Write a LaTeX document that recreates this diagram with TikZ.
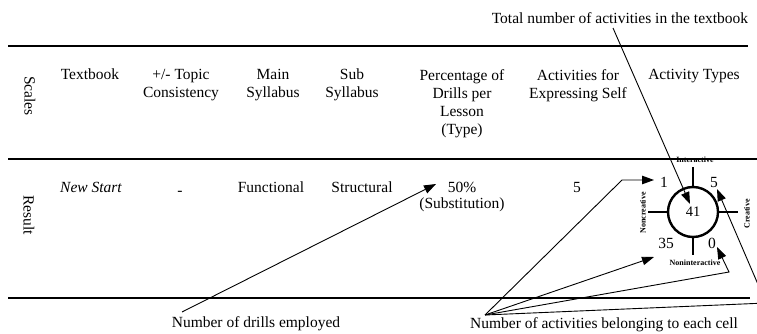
\documentclass[tikz,border=0pt]{standalone}
\usepackage{fontspec}
\setmainfont{Liberation Serif}
\usetikzlibrary{arrows.meta}
\begin{document}
\begin{tikzpicture}[x=1pt,y=-1pt,
  txt/.style={font=\fontsize{15.5}{18}\selectfont, inner sep=0pt, align=center},
  hdr/.style={txt, anchor=north},
  val/.style={txt, anchor=base},
  axl/.style={font=\fontsize{8}{8}\selectfont\bfseries, inner sep=0.5pt},
  rule/.style={line width=1.1pt},
  ptr/.style={line width=0.9pt, -{Triangle[length=12pt,width=8.5pt]}},
  tick/.style={line width=2.4pt}]
\useasboundingbox (0,0) rectangle (757,334);
\clip (0,0) rectangle (757,334);
% table rules
\draw[rule] (8,46) -- (748,46);
\draw[rule] (8,159) -- (757,159);
\draw[rule] (8,298) -- (750,298);
% side labels
\node[txt, rotate=-90] (scales) at (30,96) {Scales};
\node[txt, rotate=-90] (result) at (29,215) {Result};
% headers
\node[hdr] (h1) at (90,69) {Textbook};
\node[hdr] (h2) at (181,69) {+/- Topic\\Consistency};
\node[hdr] (h3) at (273,69) {Main\\Syllabus};
\node[hdr] (h4) at (352,69) {Sub\\Syllabus};
\node[hdr] (h5) at (462,69) {Percentage of\\Drills per\\Lesson\\(Type)};
\node[hdr] (h6) at (578,69) {Activities for\\Expressing Self};
\node[hdr] (h7) at (694,69) {Activity Types};
% values
\node[val] (v1) at (91,192) {\itshape New Start};
\node[val] (v2) at (180,195) {-};
\node[val] (v3) at (271,192) {Functional};
\node[val] (v4) at (362,192) {Structural};
\node[val] (v5) at (462,192) {50\%};
\node[val] (v5b) at (462,208) {(Substitution)};
\node[val] (v6) at (577,192) {5};
% activity circle
\node[circle, draw, line width=2.4pt, minimum size=50pt, inner sep=0pt,
      font=\fontsize{14.5}{16}\selectfont] (c) at (693,212) {41};
\draw[tick] (693,167) -- (c.north);
\draw[tick] (c.south) -- (693,255);
\draw[tick] (648,212) -- (c.west);
\draw[tick] (c.east) -- (738,212);
\node[val] (n1) at (664,187) {1};
\node[val] (n5) at (714,187) {5};
\node[val] (n35) at (666,248) {35};
\node[val] (n0) at (712,248) {0};
\node[axl] (ai) at (695,160) {Interactive};
\node[axl] (an) at (695,263) {Noninteractive};
\node[axl, rotate=90] (anc) at (643,213) {Noncreative};
\node[axl, rotate=90] (acr) at (747,214) {Creative};
% annotations
\node[txt] (total) at (620,18) {Total number of activities in the textbook};
\node[txt] (drills) at (256,324) {Number of drills employed};
\node[txt] (cells) at (604,325) {Number of activities belonging to each cell};
\coordinate (tstart) at (613,28);
\coordinate (tend) at (690,204);
\coordinate (dstart) at (182,312);
\coordinate (dend) at (436,184);
\coordinate (conv) at (485,315);
\coordinate (b1) at (622,180);
\coordinate (t1) at (654,180);
\coordinate (t35) at (654,257);
\coordinate (b0) at (729,272);
\coordinate (t0) at (717,247);
\coordinate (b5) at (766,303);
\coordinate (t5) at (717,189);
\draw[ptr] (tstart) -- (tend);
\draw[ptr] (dstart) -- (dend);
\draw[ptr] (conv) -- (b1) -- (t1);
\draw[ptr] (conv) -- (t35);
\draw[ptr] (conv) -- (b0) -- (t0);
\draw[ptr] (conv) -- (b5) -- (t5);
\end{tikzpicture}
\end{document}
